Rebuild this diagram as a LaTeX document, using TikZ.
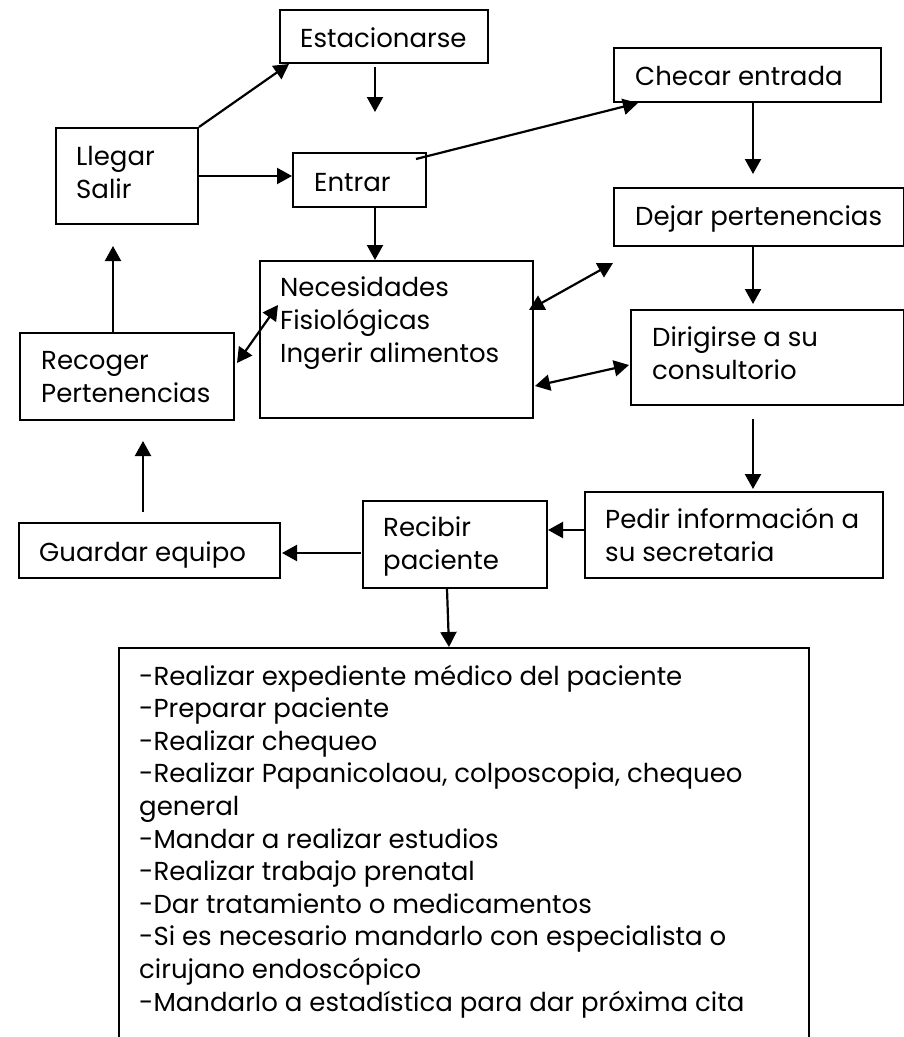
\documentclass[tikz,border=0pt]{standalone}
\usepackage{fontspec}
\setmainfont{Poppins}
\usepackage{tikz}
\usetikzlibrary{arrows.meta,calc}
\tikzstyle{caja}=[draw,line width=2pt,rectangle,anchor=north west,inner sep=0pt]
\tikzstyle{texto}=[anchor=base west,align=left,inner sep=0pt,font=\fontsize{26}{32.6}\selectfont]
\tikzstyle{flecha}=[draw,line width=2.2pt,-{Triangle[length=15pt,width=16pt]}]
\tikzstyle{doble}=[draw,line width=2.2pt,{Triangle[length=15pt,width=16pt]}-{Triangle[length=15pt,width=16pt]}]

\begin{document}
\begin{tikzpicture}[x=1pt,y=-1pt]
\useasboundingbox (0,0) rectangle (904,1037);

% Cajas
\foreach \name/\x/\y/\w/\h in {est/279/9/208/53, llegar/55/127/142/96, entrar/292/152/133/54,
    checar/613/47/267/54, dejar/613/187/290/58, nec/259/260/273/157, recoger/19/332/214/87,
    dirig/630/309/273/95, pedir/584/491/298/86, recibir/362/500/184/87, guardar/18/522/261/55,
    lista/118/647/690/400}
    \node[caja,minimum width=\w pt,minimum height=\h pt] (\name) at (\x,\y) {};

% Textos (base = ultima linea)
\foreach \name/\pos/\txt in {est/{(300,47)}/{Estacionarse}, llegar/{(76,198)}/{Llegar\\Salir},
    entrar/{(314,191)}/{Entrar}, checar/{(635,85)}/{Checar entrada},
    dejar/{(635,225)}/{Dejar pertenencias},
    nec/{(280,362)}/{Necesidades\\Fisiológicas\\Ingerir alimentos},
    recoger/{(41,402)}/{Recoger\\Pertenencias}, dirig/{(652,379)}/{Dirigirse a su\\consultorio},
    pedir/{(605,561)}/{Pedir información a\\su secretaria}, recibir/{(383,569)}/{Recibir\\paciente},
    guardar/{(39,561)}/{Guardar equipo}}
    \node[texto] (t\name) at \pos {\txt};

\node[texto] (tlista) at (139,1011) {-Realizar expediente médico del paciente\\
    -Preparar paciente\\
    -Realizar chequeo\\
    -Realizar Papanicolaou, colposcopia, chequeo\\
    general\\
    -Mandar a realizar estudios\\
    -Realizar trabajo prenatal\\
    -Dar tratamiento o medicamentos\\
    -Si es necesario mandarlo con especialista o\\
    cirujano endoscópico\\
    -Mandarlo a estadística para dar próxima cita};

% Flechas
\coordinate (libre1) at ($(est.south west)+(96,48)$);
\coordinate (libre2) at ($(dejar.south west)+(0,16)$);
\path[flecha] (llegar.north east) -- ($(est.south west)+(10,0)$);
\path[flecha] ($(est.south west)+(96,3)$) -- (libre1);
\path[flecha] (llegar.east) -- (llegar.east -| entrar.west);
\path[flecha] ($(entrar.north east)+(-11,7)$) -- ($(checar.south west)+(25,0)$);
\path[flecha] ($(checar.south west)+(140,0)$) -- ($(dejar.north west)+(140,-13)$);
\path[flecha] ($(entrar.south west)+(83,0)$) -- ($(nec.north west)+(116,0)$);
\path[flecha] ($(dejar.south west)+(140,0)$) -- ($(dirig.north west)+(123,-5)$);
\path[doble] ($(nec.north east)+(-5,50)$) -- (libre2);
\path[doble] ($(recoger.north east)+(2,31)$) -- ($(nec.north west)+(19,45)$);
\path[doble] ($(nec.north east)+(1,126)$) -- ($(dirig.north west)+(-1,56)$);
\path[flecha] ($(recoger.north west)+(94,0)$) -- ($(llegar.south west)+(58,21)$);
\path[flecha] ($(dirig.south west)+(123,13)$) -- ($(pedir.north west)+(169,-2)$);
\path[flecha] ($(pedir.north west)+(0,39)$) -- ($(recibir.north east)+(0,30)$);
\path[flecha] ($(recibir.north west)+(-1,53)$) -- ($(guardar.north east)+(1,31)$);
\path[flecha] ($(guardar.north west)+(125,-10)$) -- ($(recoger.south west)+(124,20)$);
\path[flecha] ($(recibir.south west)+(85,0)$) -- ($(lista.north west)+(331,0)$);

\end{tikzpicture}
\end{document}
